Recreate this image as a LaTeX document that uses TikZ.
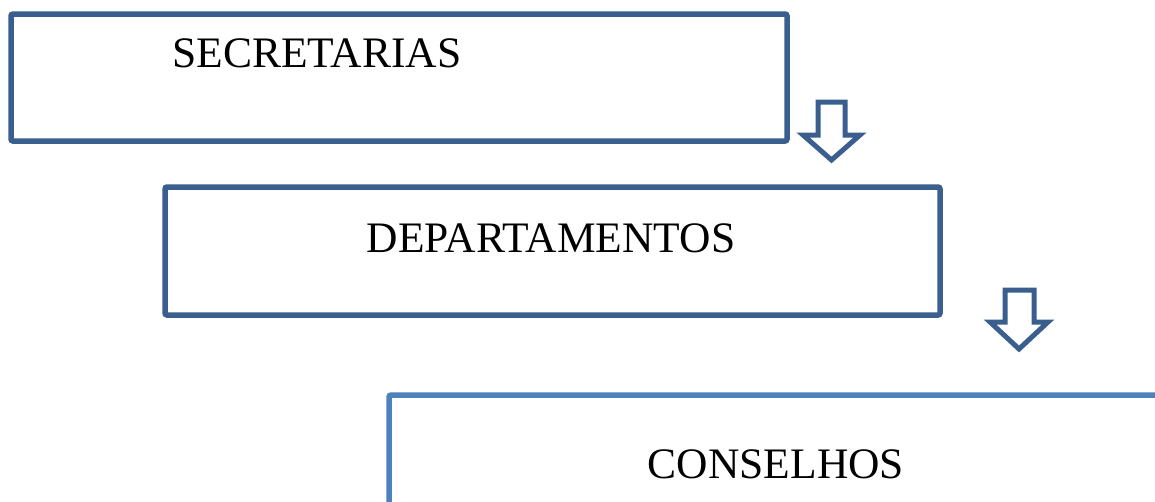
\documentclass[tikz,border=0pt]{standalone}
\usepackage{fontspec}
\setmainfont{Liberation Serif}
\definecolor{boxdark}{HTML}{3A5F8E}
\definecolor{boxlight}{HTML}{4F81BD}
\begin{document}
\begin{tikzpicture}[x=1pt,y=-1pt,
  orgbox/.style={draw=boxdark,line width=5.5pt,rounded corners=2pt,fill=white},
  blockarrow/.style={draw=boxdark,line width=5pt,line join=miter,fill=white},
  lbl/.style={font=\fontsize{43.5}{48}\selectfont,inner sep=0pt,anchor=base}]
\useasboundingbox (0,0) rectangle (1155,501);
\clip (0,0) rectangle (1155,501);
\fill[white] (0,0) rectangle (1155,501);
% boxes
\draw[orgbox] (11,14) rectangle (787,141);
\node[coordinate] (b1) at (399,77) {};
\draw[orgbox] (165,187) rectangle (940,315);
\node[coordinate] (b2) at (552,251) {};
\draw[orgbox,draw=boxlight] (389,395) rectangle (1175,530);
\node[coordinate] (b3) at (782,460) {};
% labels
\node[lbl] (t1) at (317,67) {SECRETARIAS};
\node[lbl] (t2) at (551,252) {DEPARTAMENTOS};
\node[lbl] (t3) at (776,478) {CONSELHOS};
% block arrows
\draw[blockarrow] (818,102) -- (845,102) -- (845,135) -- (860,135) -- (831.5,160) -- (803,135) -- (818,135) -- cycle;
\draw[blockarrow] (1005,290) -- (1034,290) -- (1034,322) -- (1048,322) -- (1019,349) -- (990,322) -- (1005,322) -- cycle;
\end{tikzpicture}
\end{document}
